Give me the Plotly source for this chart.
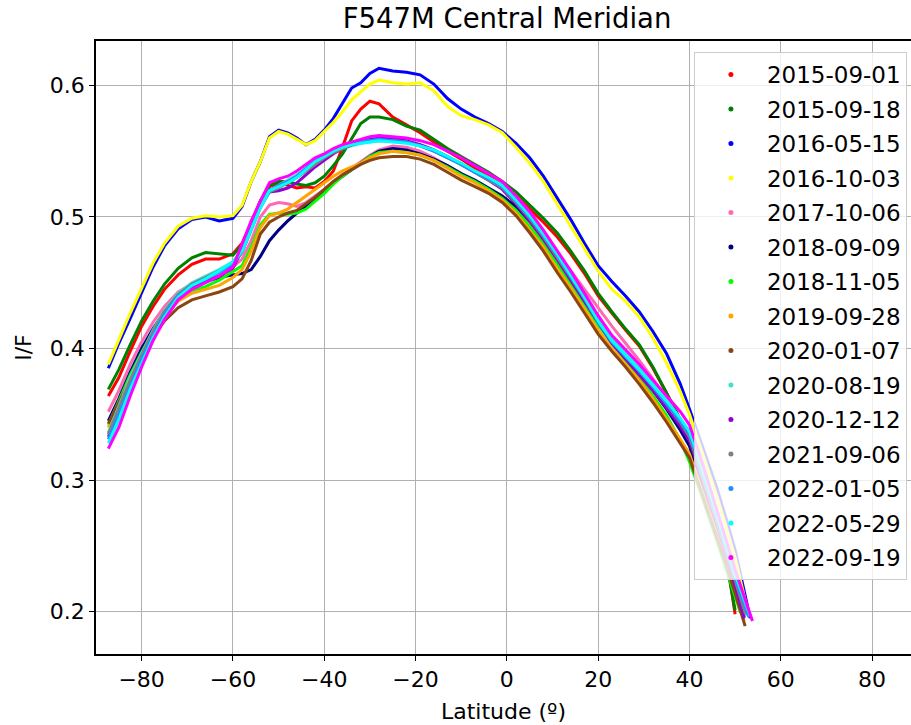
import plotly.graph_objects as go

# Latitude grid (degrees) shared by every date
latitude = [-87.3, -85, -82.5, -80, -77.5, -75, -72, -69, -66, -63, -60, -58, -56, -54, -52,
            -50, -48, -46, -44, -42, -40, -38, -36, -34, -32, -30, -28, -25, -22, -19,
            -16, -13, -10, -7, -4, -1, 2, 5, 8, 11, 14, 17, 20, 23, 26,
            29, 32, 35, 38, 40, 42, 44, 46, 48, 50]

# I/F along the central meridian, one list per observation date
if_2015_09_01 = [0.364, 0.378, 0.398, 0.417, 0.432, 0.445, 0.456, 0.464, 0.468, 0.468, 0.472, 0.480, 0.495, 0.512, 0.523,
                 0.526, 0.524, 0.522, 0.523, 0.522, 0.527, 0.535, 0.553, 0.573, 0.582, 0.588, 0.586, 0.576, 0.570, 0.564,
                 0.557, 0.550, 0.544, 0.537, 0.531, 0.524, 0.516, 0.506, 0.496, 0.485, 0.472, 0.457, 0.440, 0.427, 0.414,
                 0.402, 0.385, 0.366, 0.346, 0.334, 0.315, 0.294, 0.271, 0.244, 0.198]
if_2015_09_18 = [0.369, 0.384, 0.403, 0.421, 0.436, 0.449, 0.461, 0.469, 0.473, 0.472, 0.471, 0.479, 0.495, 0.512, 0.524,
                 0.527, 0.527, 0.525, 0.524, 0.526, 0.531, 0.539, 0.548, 0.560, 0.571, 0.576, 0.576, 0.574, 0.569, 0.566,
                 0.559, 0.552, 0.546, 0.540, 0.534, 0.527, 0.519, 0.509, 0.499, 0.488, 0.474, 0.459, 0.442, 0.428, 0.415,
                 0.403, 0.386, 0.366, 0.345, 0.332, 0.313, 0.292, 0.268, 0.240, 0.201]
if_2016_05_15 = [0.385, 0.404, 0.423, 0.443, 0.462, 0.478, 0.491, 0.498, 0.500, 0.497, 0.499, 0.508, 0.527, 0.542, 0.561,
                 0.566, 0.564, 0.560, 0.555, 0.559, 0.566, 0.575, 0.586, 0.598, 0.602, 0.609, 0.613, 0.611, 0.610, 0.608,
                 0.601, 0.590, 0.582, 0.576, 0.571, 0.565, 0.556, 0.545, 0.531, 0.515, 0.498, 0.480, 0.463, 0.451, 0.440,
                 0.428, 0.413, 0.396, 0.373, 0.354, 0.334, 0.314, 0.294, 0.271, 0.247]
if_2016_10_03 = [0.388, 0.407, 0.427, 0.446, 0.465, 0.480, 0.493, 0.499, 0.501, 0.500, 0.501, 0.509, 0.527, 0.542, 0.560,
                 0.565, 0.563, 0.559, 0.555, 0.558, 0.565, 0.572, 0.580, 0.589, 0.595, 0.601, 0.604, 0.602, 0.601, 0.602,
                 0.596, 0.584, 0.577, 0.574, 0.570, 0.564, 0.553, 0.541, 0.527, 0.510, 0.493, 0.475, 0.459, 0.445, 0.436,
                 0.424, 0.408, 0.389, 0.367, 0.350, 0.329, 0.309, 0.288, 0.265, 0.241]
if_2017_10_06 = [0.352, 0.368, 0.388, 0.405, 0.420, 0.432, 0.443, 0.449, 0.452, 0.456, 0.462, 0.468, 0.482, 0.500, 0.509,
                 0.511, 0.510, 0.508, 0.511, 0.516, 0.521, 0.527, 0.532, 0.537, 0.542, 0.547, 0.551, 0.554, 0.553, 0.550,
                 0.545, 0.539, 0.533, 0.527, 0.520, 0.513, 0.505, 0.495, 0.484, 0.472, 0.459, 0.445, 0.431, 0.417, 0.404,
                 0.391, 0.377, 0.362, 0.346, 0.334, 0.313, 0.291, 0.269, 0.246, 0.222]
if_2018_09_09 = [0.345, 0.362, 0.382, 0.400, 0.415, 0.428, 0.440, 0.447, 0.451, 0.454, 0.456, 0.457, 0.460, 0.470, 0.482,
                 0.490, 0.497, 0.503, 0.508, 0.514, 0.520, 0.526, 0.531, 0.536, 0.541, 0.546, 0.550, 0.552, 0.551, 0.548,
                 0.544, 0.539, 0.533, 0.528, 0.522, 0.516, 0.508, 0.497, 0.484, 0.469, 0.455, 0.440, 0.424, 0.409, 0.395,
                 0.382, 0.368, 0.354, 0.338, 0.326, 0.305, 0.284, 0.262, 0.240, 0.217]
if_2018_11_05 = [0.342, 0.360, 0.380, 0.397, 0.413, 0.426, 0.437, 0.444, 0.447, 0.452, 0.459, 0.463, 0.477, 0.494, 0.502,
                 0.503, 0.502, 0.503, 0.506, 0.512, 0.518, 0.525, 0.531, 0.536, 0.541, 0.546, 0.549, 0.550, 0.549, 0.547,
                 0.543, 0.538, 0.532, 0.527, 0.521, 0.514, 0.505, 0.493, 0.480, 0.465, 0.450, 0.434, 0.418, 0.404, 0.391,
                 0.378, 0.364, 0.349, 0.330, 0.314, 0.295, 0.275, 0.254, 0.233, 0.211]
if_2019_09_28 = [0.340, 0.358, 0.378, 0.395, 0.412, 0.425, 0.436, 0.442, 0.445, 0.448, 0.454, 0.460, 0.474, 0.492, 0.501,
                 0.503, 0.506, 0.511, 0.516, 0.521, 0.526, 0.531, 0.535, 0.538, 0.541, 0.545, 0.548, 0.550, 0.549, 0.547,
                 0.543, 0.537, 0.531, 0.526, 0.520, 0.513, 0.503, 0.490, 0.477, 0.461, 0.446, 0.430, 0.414, 0.400, 0.388,
                 0.376, 0.362, 0.347, 0.331, 0.320, 0.300, 0.280, 0.259, 0.237, 0.215]
if_2020_01_07 = [0.343, 0.359, 0.377, 0.394, 0.409, 0.421, 0.431, 0.437, 0.440, 0.443, 0.447, 0.453, 0.467, 0.487, 0.496,
                 0.500, 0.503, 0.505, 0.510, 0.515, 0.521, 0.527, 0.532, 0.536, 0.540, 0.543, 0.545, 0.546, 0.546, 0.544,
                 0.540, 0.534, 0.528, 0.523, 0.518, 0.511, 0.501, 0.488, 0.474, 0.458, 0.443, 0.427, 0.411, 0.398, 0.386,
                 0.373, 0.359, 0.344, 0.328, 0.317, 0.297, 0.277, 0.257, 0.236, 0.214]
if_2020_08_19 = [0.336, 0.356, 0.378, 0.396, 0.414, 0.429, 0.442, 0.450, 0.455, 0.460, 0.466, 0.475, 0.492, 0.509, 0.520,
                 0.524, 0.528, 0.532, 0.537, 0.542, 0.546, 0.549, 0.552, 0.554, 0.556, 0.557, 0.558, 0.558, 0.557, 0.555,
                 0.551, 0.546, 0.540, 0.534, 0.528, 0.522, 0.512, 0.500, 0.486, 0.471, 0.456, 0.440, 0.423, 0.408, 0.396,
                 0.385, 0.373, 0.360, 0.346, 0.335, 0.314, 0.293, 0.271, 0.248, 0.225]
if_2020_12_12 = [0.333, 0.352, 0.373, 0.392, 0.410, 0.425, 0.438, 0.446, 0.451, 0.455, 0.461, 0.475, 0.492, 0.509, 0.519,
                 0.520, 0.522, 0.526, 0.532, 0.538, 0.543, 0.548, 0.552, 0.555, 0.557, 0.559, 0.560, 0.560, 0.558, 0.555,
                 0.551, 0.546, 0.540, 0.534, 0.528, 0.521, 0.510, 0.497, 0.483, 0.468, 0.452, 0.436, 0.419, 0.404, 0.392,
                 0.380, 0.368, 0.355, 0.341, 0.330, 0.309, 0.288, 0.266, 0.243, 0.220]
if_2021_09_06 = [0.335, 0.354, 0.376, 0.395, 0.413, 0.428, 0.441, 0.449, 0.454, 0.459, 0.464, 0.473, 0.490, 0.507, 0.519,
                 0.522, 0.526, 0.530, 0.535, 0.540, 0.545, 0.549, 0.552, 0.555, 0.557, 0.558, 0.558, 0.558, 0.557, 0.554,
                 0.550, 0.545, 0.540, 0.534, 0.528, 0.522, 0.511, 0.499, 0.485, 0.470, 0.454, 0.438, 0.421, 0.406, 0.394,
                 0.383, 0.371, 0.358, 0.344, 0.333, 0.312, 0.291, 0.269, 0.246, 0.223]
if_2022_01_05 = [0.331, 0.350, 0.372, 0.392, 0.410, 0.426, 0.440, 0.448, 0.453, 0.458, 0.464, 0.474, 0.491, 0.508, 0.520,
                 0.524, 0.527, 0.531, 0.537, 0.543, 0.547, 0.551, 0.554, 0.556, 0.557, 0.558, 0.559, 0.558, 0.557, 0.554,
                 0.550, 0.545, 0.540, 0.534, 0.529, 0.523, 0.512, 0.500, 0.486, 0.471, 0.455, 0.438, 0.420, 0.405, 0.394,
                 0.383, 0.371, 0.358, 0.345, 0.335, 0.315, 0.294, 0.272, 0.249, 0.226]
if_2022_05_29 = [0.328, 0.346, 0.369, 0.389, 0.408, 0.424, 0.439, 0.448, 0.453, 0.459, 0.466, 0.474, 0.490, 0.507, 0.520,
                 0.523, 0.526, 0.530, 0.536, 0.542, 0.546, 0.550, 0.553, 0.555, 0.556, 0.557, 0.558, 0.557, 0.556, 0.554,
                 0.551, 0.546, 0.541, 0.535, 0.530, 0.524, 0.513, 0.501, 0.487, 0.472, 0.456, 0.439, 0.421, 0.406, 0.395,
                 0.384, 0.372, 0.360, 0.347, 0.337, 0.317, 0.296, 0.274, 0.251, 0.228]
if_2022_09_19 = [0.324, 0.340, 0.364, 0.386, 0.406, 0.422, 0.437, 0.445, 0.450, 0.455, 0.462, 0.480, 0.497, 0.512, 0.526,
                 0.529, 0.531, 0.535, 0.540, 0.545, 0.548, 0.552, 0.555, 0.557, 0.559, 0.561, 0.562, 0.561, 0.560, 0.558,
                 0.555, 0.550, 0.545, 0.539, 0.533, 0.527, 0.516, 0.504, 0.490, 0.475, 0.459, 0.442, 0.425, 0.410, 0.399,
                 0.388, 0.376, 0.364, 0.352, 0.342, 0.322, 0.300, 0.278, 0.255, 0.232]

dates = ["2015-09-01", "2015-09-18", "2016-05-15", "2016-10-03", "2017-10-06",
         "2018-09-09", "2018-11-05", "2019-09-28", "2020-01-07", "2020-08-19",
         "2020-12-12", "2021-09-06", "2022-01-05", "2022-05-29", "2022-09-19"]
profiles = [if_2015_09_01, if_2015_09_18, if_2016_05_15, if_2016_10_03, if_2017_10_06,
            if_2018_09_09, if_2018_11_05, if_2019_09_28, if_2020_01_07, if_2020_08_19,
            if_2020_12_12, if_2021_09_06, if_2022_01_05, if_2022_05_29, if_2022_09_19]

# Northernmost sample of each profile (None: profile stops at the grid end)
limb_lat = [None, None, 53.3, 53.0, 51.8, 52.0, 51.2, 52.0, 52.2, 52.5, 52.0, 52.3, 53.0, 53.3, 53.8]
limb_if = [None, None, 0.195, 0.197, 0.199, 0.196, 0.199, 0.193, 0.189, 0.197, 0.195, 0.198, 0.196, 0.197, 0.193]

colors = ["red", "green", "blue", "yellow", "hotpink", "navy", "lime", "orange", "saddlebrown",
          "turquoise", "darkviolet", "grey", "dodgerblue", "cyan", "magenta"]

x_ticks = [-80, -60, -40, -20, 0, 20, 40, 60, 80]
x_tick_labels = ["\u221280", "\u221260", "\u221240", "\u221220", "0", "20", "40", "60", "80"]
y_ticks = [0.2, 0.3, 0.4, 0.5, 0.6]
y_tick_labels = ["0.2", "0.3", "0.4", "0.5", "0.6"]

FONT = "DejaVu Sans"

fig = go.Figure()
for date, vals, lat_end, val_end, col in zip(dates, profiles, limb_lat, limb_if, colors):
    assert len(vals) == len(latitude)
    xs = list(latitude)
    ys = list(vals)
    if lat_end is not None:
        xs.append(lat_end)
        ys.append(val_end)
    fig.add_trace(go.Scatter(x=xs, y=ys, mode="lines", line=dict(color=col, width=3),
                             legendgroup=date, showlegend=False, hoverinfo="skip"))
    # legend entry drawn as a small dot
    fig.add_trace(go.Scatter(x=[None], y=[None], mode="markers", name=date, legendgroup=date,
                             marker=dict(color=col, size=5)))

fig.update_layout(
    width=911, height=725,
    margin=dict(l=96, r=0, t=41, b=71),
    paper_bgcolor="white", plot_bgcolor="white",
    font=dict(family=FONT, size=22, color="black"),
    title=dict(text="F547M Central Meridian", x=507 / 911, xanchor="center",
               y=1 - 18 / 725, yanchor="middle", font=dict(family=FONT, size=27.5, color="black")),
    showlegend=True,
    legend=dict(x=0.995, xanchor="right", y=0.982, yanchor="top",
                bgcolor="rgba(255,255,255,0.8)", bordercolor="#cccccc", borderwidth=1,
                font=dict(family=FONT, size=23, color="black"),
                tracegroupgap=1.6, itemwidth=62, traceorder="grouped"),
)
fig.update_xaxes(range=[-90, 88.53], tickmode="array", tickvals=x_ticks, ticktext=x_tick_labels,
                 showgrid=True, gridcolor="#b0b0b0", gridwidth=1, zeroline=False,
                 showline=True, linecolor="black", linewidth=1.5, mirror=True,
                 ticks="outside", ticklen=5, tickwidth=1, tickcolor="black",
                 title=dict(text="Latitude (\u00ba)", standoff=12, font=dict(family=FONT, size=22)))
fig.update_yaxes(range=[0.16785, 0.63375], tickmode="array", tickvals=y_ticks, ticktext=y_tick_labels,
                 showgrid=True, gridcolor="#b0b0b0", gridwidth=1, zeroline=False,
                 showline=True, linecolor="black", linewidth=1.5, mirror=False,
                 ticks="outside", ticklen=5, tickwidth=1, tickcolor="black",
                 title=dict(text="I/F", standoff=12, font=dict(family=FONT, size=22)))

fig.write_html("out.html")
